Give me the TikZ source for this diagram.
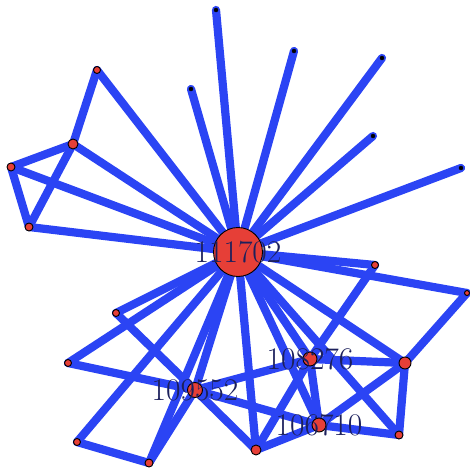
\documentclass[tikz,border=0pt]{standalone}
\usepackage{xcolor}
\definecolor{EdgeBlue}{HTML}{2B44F4}
\definecolor{NodeRed}{HTML}{E63F37}
\definecolor{LabelNavy}{HTML}{1C205C}
\usepackage{tikz}
\usetikzlibrary{backgrounds}

\begin{document}
\begin{tikzpicture}[
  x=1pt,y=-1pt,
  vtx/.style={circle,draw=black,fill=NodeRed,line width=0.9pt,inner sep=0pt,minimum size=#1},
  leaf/.style={circle,draw=black,fill=black,inner sep=0pt,minimum size=4pt},
  edge/.style={EdgeBlue,line width=8.2pt,line cap=round},
  lbl/.style={font=\fontsize{31.5}{31.5}\selectfont,text=LabelNavy,inner sep=0pt}
]
  \useasboundingbox (0,0) rectangle (469,471);
  % hub and its neighbours
  \node[vtx=49pt] (n111702) at (238,252) {};
  \node[leaf] (top1) at (216,10) {};
  \node[leaf] (top2) at (191,89) {};
  \node[leaf] (top3) at (294,51) {};
  \node[leaf] (top4) at (382,58) {};
  \node[leaf] (top5) at (373,136) {};
  \node[leaf] (top6) at (461,168) {};
  % left group
  \node[vtx=7pt] (l1) at (97,70) {};
  \node[vtx=10pt] (l2) at (73,144) {};
  \node[vtx=8pt] (l3) at (11,167) {};
  \node[vtx=8pt] (l4) at (29,227) {};
  % right group
  \node[vtx=7pt] (r1) at (375,265) {};
  \node[vtx=5pt] (r2) at (467,293) {};
  \node[vtx=12pt] (r3) at (405,363) {};
  \node[vtx=8pt] (r4) at (399,435) {};
  % lower group
  \node[vtx=14pt] (n108276) at (310,359) {};
  \node[vtx=15pt] (n109552) at (195,390) {};
  \node[vtx=14pt] (n106710) at (319,425) {};
  \node[vtx=10pt] (b1) at (256,450) {};
  \node[vtx=8pt] (b2) at (149,463) {};
  \node[vtx=7pt] (b3) at (77,442) {};
  \node[vtx=7pt] (b4) at (68,363) {};
  \node[vtx=7pt] (b5) at (116,313) {};

  \begin{scope}[on background layer]
    \draw[edge] (n111702.center) -- (top1.center);
    \draw[edge] (n111702.center) -- (top2.center);
    \draw[edge] (n111702.center) -- (top3.center);
    \draw[edge] (n111702.center) -- (top4.center);
    \draw[edge] (n111702.center) -- (top5.center);
    \draw[edge] (n111702.center) -- (top6.center);
    \draw[edge] (n111702.center) -- (l1.center);
    \draw[edge] (n111702.center) -- (l2.center);
    \draw[edge] (n111702.center) -- (l3.center);
    \draw[edge] (n111702.center) -- (l4.center);
    \draw[edge] (l1.center) -- (l2.center);
    \draw[edge] (l2.center) -- (l3.center);
    \draw[edge] (l2.center) -- (l4.center);
    \draw[edge] (l3.center) -- (l4.center);
    \draw[edge] (n111702.center) -- (r1.center);
    \draw[edge] (n111702.center) -- (r2.center);
    \draw[edge] (n111702.center) -- (r3.center);
    \draw[edge] (n111702.center) -- (r4.center);
    \draw[edge] (r1.center) -- (n108276.center);
    \draw[edge] (r2.center) -- (r3.center);
    \draw[edge] (r3.center) -- (r4.center);
    \draw[edge] (n108276.center) -- (r3.center);
    \draw[edge] (r3.center) -- (n106710.center);
    \draw[edge] (n106710.center) -- (r4.center);
    \draw[edge] (n111702.center) -- (n108276.center);
    \draw[edge] (n111702.center) -- (n106710.center);
    \draw[edge] (n111702.center) -- (n109552.center);
    \draw[edge] (n111702.center) -- (b1.center);
    \draw[edge] (n108276.center) -- (n106710.center);
    \draw[edge] (n109552.center) -- (n108276.center);
    \draw[edge] (n109552.center) -- (n106710.center);
    \draw[edge] (n109552.center) -- (b1.center);
    \draw[edge] (b1.center) -- (n108276.center);
    \draw[edge] (b1.center) -- (n106710.center);
    \draw[edge] (n111702.center) -- (b2.center);
    \draw[edge] (n111702.center) -- (b3.center);
    \draw[edge] (n111702.center) -- (b4.center);
    \draw[edge] (n111702.center) -- (b5.center);
    \draw[edge] (b2.center) -- (n109552.center);
    \draw[edge] (b3.center) -- (b2.center);
    \draw[edge] (b4.center) -- (n109552.center);
    \draw[edge] (b5.center) -- (n109552.center);
  \end{scope}

  \node[lbl] (t111702) at (n111702) {111702};
  \node[lbl] (t108276) at (n108276) {108276};
  \node[lbl] (t109552) at (n109552) {109552};
  \node[lbl] (t106710) at (n106710) {106710};
\end{tikzpicture}
\end{document}
